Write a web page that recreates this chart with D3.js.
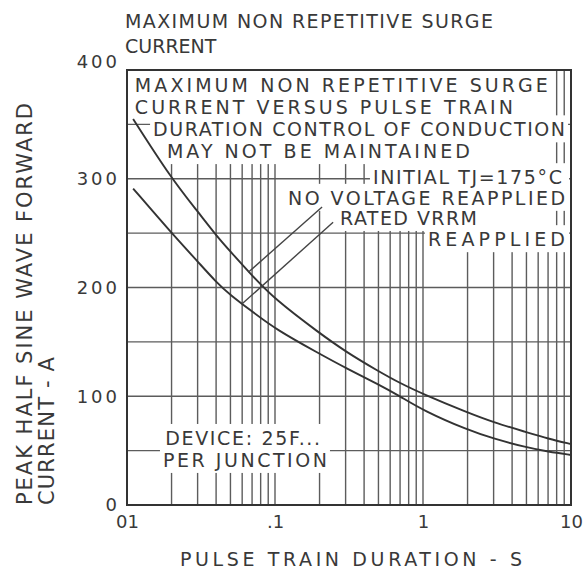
<!DOCTYPE html>
<html>
<head>
<meta charset="utf-8">
<script src="https://cdnjs.cloudflare.com/ajax/libs/d3/7.8.5/d3.min.js"></script>
<style>
  body { margin: 0; background: #fff; }
  svg { display: block; font-family: "DejaVu Sans", sans-serif; }
  .txt { fill: #393939; font-size: 19px; }
  .grid line { stroke: #5c5c5c; stroke-width: 1.4; }
  .curve { fill: none; stroke: #333; stroke-width: 1.9; }
  .leader { fill: none; stroke: #444; stroke-width: 1.4; }
  .frame { fill: none; stroke: #333; stroke-width: 2; }
  .axis text { fill: #393939; font-size: 18px; font-family: "DejaVu Sans", sans-serif; }
</style>
</head>
<body>
<svg width="583" height="579"></svg>
<script>
// pulse train duration (s) and peak half sine current (A)
var durationS  = [0.011, 0.02, 0.03, 0.04, 0.05, 0.07, 0.1, 0.2, 0.3, 0.5, 0.7, 1, 2, 3, 5, 7, 10];
var noVoltageA = [355, 300, 270, 248, 233, 211, 189, 158, 141, 123, 112, 102, 85, 76, 67, 61, 56];
var ratedVrrmA = [291, 250, 224, 205, 193, 178, 162, 139, 126, 111, 100, 87, 69, 61, 53, 49, 46];

var xTicks = [0.01, 0.1, 1, 10];
var xTickLabels = ["01", ".1", "1", "10"];
var yTicks = [0, 100, 200, 300, 400];
var yTickLabels = ["0", "100", "200", "300", "400"];

// leader lines from the labels down to the curves, in (s, A)
var noVoltageLeader = [[0.066, 214], [0.208, 274]];
var ratedLeader = [[0.06, 185], [0.247, 260]];

// notes written inside the grid, anchored in (s, A); "to" = where the blank patch ends
var notes = [
  {text: "MAXIMUM NON REPETITIVE SURGE", t: 0.0113, a: 380, len: 413},
  {text: "CURRENT VERSUS PULSE TRAIN", t: 0.0113, a: 360, len: 378, to: 7.5},
  {text: "DURATION CONTROL OF CONDUCTION", t: 0.015, a: 339, len: 412},
  {text: "MAY NOT BE MAINTAINED", t: 0.0186, a: 319, len: 303, to: 7.5},
  {text: "INITIAL TJ=175°C", t: 0.459, a: 295, len: 189, to: 9.7},
  {text: "NO VOLTAGE REAPPLIED", t: 0.1225, a: 276, len: 277, to: 9.7},
  {text: "RATED VRRM", t: 0.275, a: 257.5, len: 137, to: 7.5},
  {text: "REAPPLIED", t: 1.08, a: 238, len: 137, to: 9.7},
  {text: "DEVICE: 25F...", t: 0.0181, a: 55.2, len: 155},
  {text: "PER JUNCTION", t: 0.0175, a: 35, len: 164}
];

var pArea = [127, 70, 571, 505];

var xScale = d3.scaleLog()
  .domain([0.01, 10])
  .range([pArea[0], pArea[2]]);

var yScale = d3.scaleLinear()
  .domain([0, 400])
  .range([pArea[3], pArea[1]]);

var svg = d3.select("svg");
var g = svg.append("g");

// grid
var grid = g.append("g").attr("class", "grid");
grid.selectAll(".vx")
  .data(xScale.ticks())
  .enter().append("line")
    .attr("x1", d => xScale(d)).attr("x2", d => xScale(d))
    .attr("y1", pArea[1]).attr("y2", pArea[3]);
grid.selectAll(".hy")
  .data(yScale.ticks(8))
  .enter().append("line")
    .attr("x1", pArea[0]).attr("x2", pArea[2])
    .attr("y1", d => yScale(d)).attr("y2", d => yScale(d));

// white boxes behind the notes, then the notes
var knock = g.append("g");
var noteG = g.append("g");
notes.forEach(n => {
  var t = noteG.append("text")
    .attr("class", "txt")
    .attr("x", xScale(n.t))
    .attr("y", yScale(n.a))
    .attr("textLength", n.len)
    .attr("lengthAdjust", "spacing")
    .text(n.text);
  var b = t.node().getBBox();
  var x0 = b.x - 3;
  var x1 = n.to ? xScale(n.to) : b.x + b.width + 3;
  knock.append("rect")
    .attr("x", x0).attr("y", b.y - 3)
    .attr("width", x1 - x0).attr("height", b.height + 5)
    .attr("fill", "#fff");
});

// frame
g.append("rect")
  .attr("class", "frame")
  .attr("x", pArea[0]).attr("y", pArea[1])
  .attr("width", pArea[2] - pArea[0]).attr("height", pArea[3] - pArea[1]);

// curves
var line = d3.line()
  .x(d => xScale(d[0]))
  .y(d => yScale(d[1]))
  .curve(d3.curveBasis);

g.append("path")
  .datum(durationS.map((t, i) => [t, noVoltageA[i]]))
  .attr("class", "curve")
  .attr("d", line);

g.append("path")
  .datum(durationS.map((t, i) => [t, ratedVrrmA[i]]))
  .attr("class", "curve")
  .attr("d", line);

var straight = d3.line().x(d => xScale(d[0])).y(d => yScale(d[1]));
[noVoltageLeader, ratedLeader].forEach(l => {
  g.append("path").datum(l).attr("class", "leader").attr("d", straight);
});

// axes (labels only)
var xAxis = g.append("g")
  .attr("class", "axis")
  .attr("transform", `translate(0, ${pArea[3]})`)
  .call(d3.axisBottom(xScale).tickValues(xTicks)
    .tickFormat((d, i) => xTickLabels[i]).tickSize(0).tickPadding(10));
xAxis.select(".domain").remove();

var yAxis = g.append("g")
  .attr("class", "axis")
  .attr("transform", `translate(${pArea[0]}, 0)`)
  .call(d3.axisLeft(yScale).tickValues(yTicks)
    .tickFormat((d, i) => yTickLabels[i]).tickSize(0).tickPadding(7));
yAxis.select(".domain").remove();
yAxis.selectAll("text").style("letter-spacing", "3px");
// top label sits a little above the frame in the scan
yAxis.selectAll(".tick").filter(d => d === 400).select("text").attr("y", -8);

// titles
g.append("text").attr("class", "txt")
  .attr("x", 125).attr("y", 28)
  .attr("textLength", 368).attr("lengthAdjust", "spacing")
  .text("MAXIMUM NON REPETITIVE SURGE");
g.append("text").attr("class", "txt")
  .attr("x", 125).attr("y", 53)
  .text("CURRENT");

g.append("text").attr("class", "txt")
  .attr("x", 180).attr("y", 566)
  .attr("textLength", 342).attr("lengthAdjust", "spacing")
  .text("PULSE TRAIN DURATION - S");

g.append("text").attr("class", "txt")
  .attr("transform", "translate(32, 505) rotate(-90)")
  .style("font-size", "21px")
  .attr("textLength", 402).attr("lengthAdjust", "spacing")
  .text("PEAK HALF SINE WAVE FORWARD");
g.append("text").attr("class", "txt")
  .attr("transform", "translate(54, 505) rotate(-90)")
  .style("font-size", "21px")
  .attr("textLength", 148).attr("lengthAdjust", "spacing")
  .text("CURRENT - A");
</script>
</body>
</html>
